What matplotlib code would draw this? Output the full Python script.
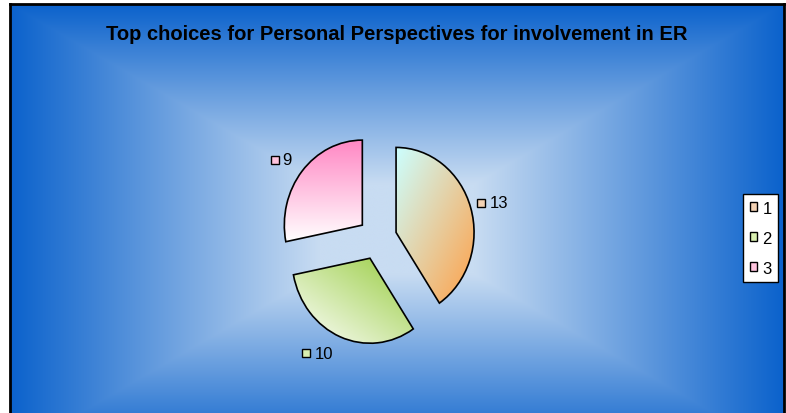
import numpy as np
import matplotlib.pyplot as plt
from matplotlib.colors import to_rgb
from matplotlib.patches import Patch
from matplotlib.transforms import offset_copy

plt.rcParams['font.family'] = ['Liberation Sans', 'DejaVu Sans']

title = "Top choices for Personal Perspectives for involvement in ER"
categories = ['1', '2', '3']
values = [13, 10, 9]

# gradient (from colour, to colour, direction) for each slice
slice_grads = [('#ccffff', '#ffa048', 'tl-br'),
               ('#ffffff', '#98cc40', 'bl-tr'),
               ('#ffffff', '#ff88c4', 'b-t')]
key_colors = ['#f3d2b4', '#d9efb0', '#ffc4de']

W, H = 786, 414
fig = plt.figure(figsize=(W / 100, H / 100), dpi=100)
fig.patch.set_facecolor('white')

# background panel, rectangular gradient light in the middle
bg = fig.add_axes([10 / W, (414 - 455) / H, 774 / W, 450 / H])
yy, xx = np.mgrid[-1:1:400j, -1:1:800j]
t = np.maximum(np.abs(xx), np.abs(yy))
s = np.clip((t - 0.2) / 0.8, 0, 1)
c0 = np.array(to_rgb('#c8dcf2'))
c1 = np.array(to_rgb('#0b62cc'))
img = c0 + (c1 - c0) * s[..., None]
bg.imshow(img, extent=(0, 1, 0, 1), aspect='auto', interpolation='bilinear')
bg.set_xticks([])
bg.set_yticks([])
for sp in bg.spines.values():
    sp.set_color('black')
    sp.set_linewidth(2)

fig.text(397 / W, 1 - 35 / H, title, ha='center', va='center',
         fontsize=14.5, fontweight='bold')

# pie
rx, ry = 78, 85
span = 1.7
cx, cy = 377.4, 239.6
ax = fig.add_axes([(cx - span * rx) / W, (H - cy - span * ry) / H,
                   2 * span * rx / W, 2 * span * ry / H])
ax.patch.set_visible(False)
wedges, _ = ax.pie(values, startangle=90, counterclock=False,
                   explode=[0.25] * len(values),
                   wedgeprops=dict(edgecolor='black', linewidth=1.2, facecolor='none'))
ax.set_aspect('auto')
ax.axis('off')

for w, (ca, cb, d), val, kc in zip(wedges, slice_grads, values, key_colors):
    ext = w.get_path().get_extents()
    x0, y0, x1, y1 = ext.x0, ext.y0, ext.x1, ext.y1
    gy, gx = np.mgrid[0:1:100j, 0:1:100j]  # origin lower
    if d == 'tl-br':
        u = (gx + (1 - gy)) / 2
    elif d == 'bl-tr':
        u = (gx + gy) / 2
    else:
        u = gy
    a, b = np.array(to_rgb(ca)), np.array(to_rgb(cb))
    grad = a + (b - a) * u[..., None]
    im = ax.imshow(grad, extent=(x0, x1, y0, y1), origin='lower',
                   aspect='auto', zorder=w.get_zorder() - 0.1)
    im.set_clip_path(w)

    # value label with key square, placed outside the slice
    mid = np.deg2rad((w.theta1 + w.theta2) / 2)
    c, sn = np.cos(mid), np.sin(mid)
    lx, ly = 1.34 * c, 1.34 * sn
    txt = str(val)
    bw = 8 + 4 + 9 * len(txt)
    left = 0 if c > 0 else -bw - 5
    dy = 10 * sn
    ax.plot(lx, ly, marker='s', ms=6, mfc=kc, mec='black', mew=1,
            transform=offset_copy(ax.transData, fig=fig, x=left + 4, y=dy, units='dots'),
            clip_on=False)
    ax.text(lx, ly, txt, fontsize=12, ha='left', va='center',
            transform=offset_copy(ax.transData, fig=fig, x=left + 12, y=dy, units='dots'))
ax.set_xlim(-span, span)
ax.set_ylim(-span, span)

handles = [Patch(facecolor=c, edgecolor='black', linewidth=1) for c in key_colors]
leg = fig.legend(handles, categories, loc='center right',
                 bbox_to_anchor=(778 / W, 1 - 239 / H), fontsize=12,
                 frameon=True, fancybox=False, edgecolor='black', framealpha=1,
                 handlelength=0.45, handleheight=0.45, handletextpad=0.3,
                 labelspacing=0.9, borderpad=0.38, borderaxespad=0)
leg.get_frame().set_linewidth(1)

fig.savefig('out.png', dpi=100)
